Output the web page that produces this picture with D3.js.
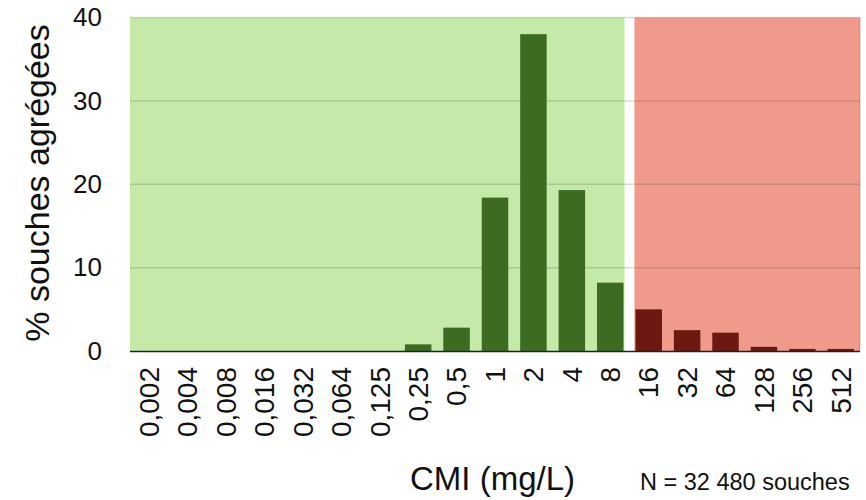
<!DOCTYPE html>
<html><head><meta charset="utf-8">
<script src="https://cdn.jsdelivr.net/npm/d3@7"></script>
<style>body{margin:0;background:#fff}svg{display:block;font-family:"Liberation Sans",Arial,Helvetica,sans-serif}</style>
</head><body><svg id="c" width="866" height="500"></svg>
<script>
const categories = ["0,002","0,004","0,008","0,016","0,032","0,064","0,125","0,25","0,5","1","2","4","8","16","32","64","128","256","512"];
const values = [0,0,0,0,0,0,0,0.8,2.8,18.4,38,19.3,8.2,5.0,2.5,2.2,0.5,0.25,0.25];
const susceptibleCount = 13; // categories up to 8 mg/L
const yTicks = [0,10,20,30,40];
const yLabel = "% souches agrégées";
const xLabel = "CMI (mg/L)";
const note = "N = 32 480 souches";

const svg = d3.select("#c");
const L = 130, R = 860, T = 17.5, B = 351;
const x = d3.scaleBand().domain(categories).range([L, R]).paddingInner(0.31).paddingOuter(0.155);
const y = d3.scaleLinear().domain([0, 40]).range([B, T]);
const step = x.step();
const boundary = L + step * susceptibleCount;
const gap = 5;

svg.append("rect").attr("x", L).attr("y", y(40)).attr("width", boundary - gap - L).attr("height", B - y(40)).attr("fill", "#c4e9a9");
svg.append("rect").attr("x", boundary + gap).attr("y", y(40)).attr("width", R - boundary - gap).attr("height", B - y(40)).attr("fill", "#ef9a8a");
svg.append("line").attr("x1", R).attr("x2", R).attr("y1", y(40)).attr("y2", B).attr("stroke", "rgba(150,60,50,0.35)");

svg.append("g").selectAll("line").data(yTicks.filter(d => d > 0)).join("line")
  .attr("x1", L).attr("x2", R).attr("y1", d => y(d)).attr("y2", d => y(d))
  .attr("stroke", "rgba(60,60,30,0.18)").attr("stroke-width", 1.5);

svg.append("g").selectAll("rect").data(categories).join("rect")
  .attr("x", d => x(d)).attr("width", x.bandwidth())
  .attr("y", (d, i) => y(values[i])).attr("height", (d, i) => B - y(values[i]))
  .attr("fill", (d, i) => i < susceptibleCount ? "#3e6b22" : "#6c1a11");

svg.append("line").attr("x1", L).attr("x2", R).attr("y1", B + 0.5).attr("y2", B + 0.5).attr("stroke", "#222").attr("stroke-width", 1.5);

const yAxis = d3.axisLeft(y).tickValues(yTicks).tickSize(0).tickPadding(0);
const gy = svg.append("g").attr("transform", `translate(102,0)`).call(yAxis);
gy.select(".domain").remove();
gy.selectAll("text").attr("font-size", 26).attr("fill", "#111").attr("font-family", '"Liberation Sans",Arial,sans-serif');

const xAxis = d3.axisBottom(x).tickSize(0).tickPadding(0);
const gx = svg.append("g").attr("transform", `translate(0,${B})`).call(xAxis);
gx.select(".domain").remove();
gx.selectAll("text").attr("font-size", 28).attr("fill", "#111").attr("font-family", '"Liberation Sans",Arial,sans-serif')
  .attr("text-anchor", "end").attr("transform", "rotate(-90)")
  .attr("x", -16).attr("y", 0).attr("dy", "0.35em");

svg.append("text").attr("transform", "translate(49,183) rotate(-90)").attr("text-anchor", "middle")
  .attr("font-size", 34).attr("fill", "#111").text(yLabel);
svg.append("text").attr("x", 410).attr("y", 490).attr("font-size", 33).attr("fill", "#111").text(xLabel);
svg.append("text").attr("x", 640).attr("y", 490).attr("font-size", 23.5).attr("fill", "#111").text(note);
</script></body></html>
